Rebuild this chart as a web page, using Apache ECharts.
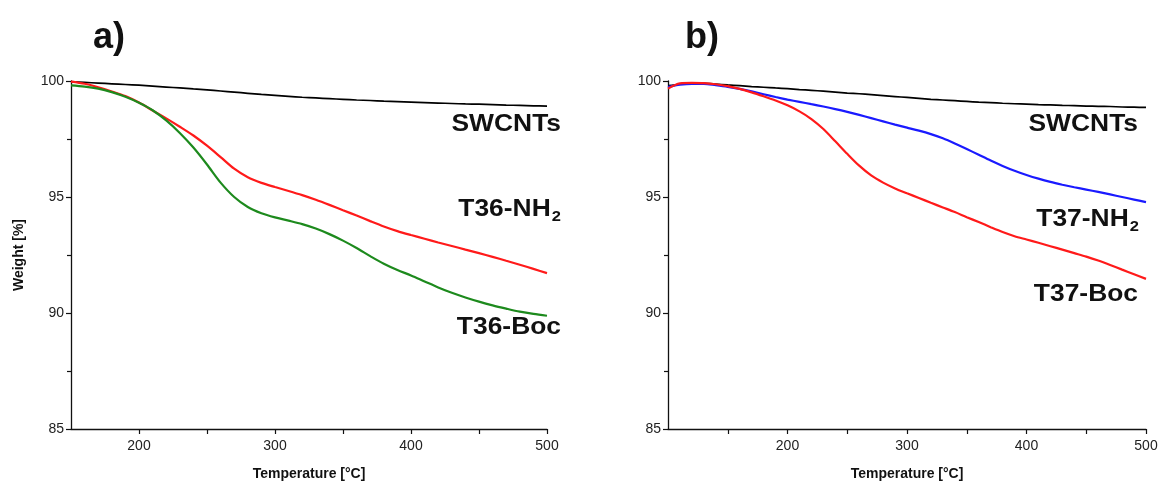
<!DOCTYPE html>
<html>
<head>
<meta charset="utf-8">
<script src="https://cdn.jsdelivr.net/npm/echarts@6/dist/echarts.min.js"></script>
<style>
  html, body { margin: 0; padding: 0; background: #fff; }
  #chart { width: 1160px; height: 484px; }
</style>
</head>
<body>
<div id="chart"></div>
<script>
// Panel a) temperatures (°C) and weights (%)
const tempA = [150,160,170,180,190,200,210,220,230,240,250,260,270,280,290,300,310,320,330,340,350,360,370,380,390,400,410,420,430,440,450,460,470,480,490,500];
const swcntA = [99.97,99.94,99.91,99.88,99.85,99.82,99.78,99.74,99.70,99.66,99.62,99.57,99.52,99.47,99.42,99.38,99.34,99.30,99.27,99.24,99.21,99.18,99.16,99.13,99.11,99.09,99.07,99.05,99.03,99.01,99.00,98.98,98.96,98.95,98.93,98.92];
const t36NH2 = [99.97,99.88,99.73,99.55,99.35,99.07,98.73,98.39,98.03,97.65,97.21,96.72,96.22,95.85,95.61,95.43,95.26,95.08,94.88,94.66,94.43,94.20,93.96,93.73,93.53,93.36,93.20,93.04,92.89,92.73,92.58,92.42,92.25,92.08,91.90,91.72];
const t36Boc = [99.81,99.76,99.67,99.52,99.32,99.06,98.74,98.30,97.76,97.13,96.40,95.62,95.00,94.57,94.30,94.12,93.98,93.83,93.64,93.40,93.12,92.80,92.45,92.12,91.85,91.62,91.36,91.10,90.87,90.67,90.49,90.33,90.19,90.06,89.96,89.88];

// Panel b) temperatures (°C) and weights (%)
const tempB = [100,110,120,130,140,150,160,170,180,190,200,210,220,230,240,250,260,270,280,290,300,310,320,330,340,350,360,370,380,390,400,410,420,430,440,450,460,470,480,490,500];
const swcntB = [99.80,99.86,99.89,99.90,99.87,99.83,99.80,99.76,99.73,99.70,99.67,99.63,99.60,99.56,99.52,99.48,99.45,99.41,99.37,99.33,99.29,99.25,99.21,99.18,99.15,99.12,99.09,99.07,99.04,99.02,99.00,98.98,98.97,98.95,98.94,98.92,98.91,98.90,98.88,98.87,98.86];
const t37NH2 = [99.74,99.84,99.88,99.88,99.82,99.75,99.66,99.55,99.43,99.31,99.20,99.10,99.00,98.90,98.79,98.67,98.54,98.40,98.26,98.12,97.99,97.86,97.71,97.53,97.31,97.07,96.82,96.57,96.34,96.13,95.95,95.79,95.65,95.53,95.42,95.32,95.22,95.11,95.00,94.89,94.78];
const t37Boc = [99.67,99.90,99.92,99.91,99.86,99.78,99.66,99.51,99.34,99.16,98.95,98.69,98.36,97.93,97.40,96.86,96.35,95.93,95.62,95.37,95.16,94.96,94.75,94.55,94.35,94.13,93.92,93.70,93.49,93.31,93.17,93.03,92.88,92.73,92.58,92.43,92.26,92.07,91.87,91.67,91.47];

// Axis ticks
const yTicks = { min: 85, max: 100, interval: 5 };
const xMajor = 100;

const FONT = '"Liberation Sans", Arial, sans-serif';
const pair = (xs, ys) => xs.map((x, i) => [x, ys[i]]);

function xAxis(gridIndex, min) {
  return {
    type: 'value', gridIndex, min, max: 500, interval: 50,
    axisLine: { show: true, onZero: false, lineStyle: { color: '#111', width: 1.3 } },
    axisTick: { show: true, inside: false, length: 5, lineStyle: { color: '#111', width: 1.2 } },
    splitLine: { show: false },
    axisLabel: {
      color: '#222', fontSize: 14, fontFamily: FONT, margin: 10,
      showMinLabel: false,
      formatter: v => (v % xMajor === 0 ? String(v) : '')
    },
    name: 'Temperature [°C]', nameLocation: 'middle', nameGap: 38,
    nameTextStyle: { color: '#111', fontSize: 14, fontWeight: 'bold', fontFamily: FONT }
  };
}

function yAxis(gridIndex, showName) {
  return {
    type: 'value', gridIndex, min: yTicks.min, max: yTicks.max, interval: yTicks.interval,
    axisLine: { show: true, lineStyle: { color: '#111', width: 1.3 } },
    axisTick: { show: true, inside: false, length: 5, lineStyle: { color: '#111', width: 1.2 } },
    minorTick: { show: true, splitNumber: 2, length: 4, lineStyle: { color: '#111', width: 1.2 } },
    splitLine: { show: false },
    axisLabel: { color: '#222', fontSize: 14, fontFamily: FONT, margin: 7 },
    name: showName ? 'Weight [%]' : '', nameLocation: 'middle', nameGap: 45,
    nameTextStyle: { color: '#111', fontSize: 14, fontWeight: 'bold', fontFamily: FONT }
  };
}

function line(name, xi, data, color, width) {
  return {
    name, type: 'line', xAxisIndex: xi, yAxisIndex: xi, data,
    showSymbol: false, smooth: 0.3, animation: false,
    lineStyle: { color, width }, itemStyle: { color }
  };
}

function label(x, y, text) {
  return {
    type: 'text', x, y, scaleX: 1.1,
    style: {
      text, fill: '#111', font: 'bold 24px ' + FONT,
      textAlign: 'right', textVerticalAlign: 'middle',
      rich: { s: { fontSize: 15, fontWeight: 'bold', fontFamily: FONT, fill: '#111', padding: [16, 0, 0, 1] } }
    }
  };
}

const chart = echarts.init(document.getElementById('chart'), null, { renderer: 'canvas' });
chart.setOption({
  backgroundColor: '#fff',
  animation: false,
  grid: [
    { left: 71, right: 613, top: 81, bottom: 55, outerBoundsMode: 'none' },
    { left: 668, right: 14, top: 81, bottom: 55, outerBoundsMode: 'none' }
  ],
  xAxis: [xAxis(0, 150), xAxis(1, 100)],
  yAxis: [yAxis(0, true), yAxis(1, false)],
  series: [
    line('SWCNTs', 0, pair(tempA, swcntA), '#000000', 1.7),
    line('T36-NH2', 0, pair(tempA, t36NH2), '#ff1a1a', 2.2),
    line('T36-Boc', 0, pair(tempA, t36Boc), '#1d8a1d', 2.2),
    line('SWCNTs', 1, pair(tempB, swcntB), '#000000', 1.7),
    line('T37-NH2', 1, pair(tempB, t37NH2), '#1a1aff', 2.2),
    line('T37-Boc', 1, pair(tempB, t37Boc), '#ff1a1a', 2.2)
  ],
  graphic: [
    { type: 'text', x: 93, y: 38, style: { text: 'a)', fill: '#111', font: 'bold 36px ' + FONT, textVerticalAlign: 'middle' } },
    { type: 'text', x: 685, y: 38, style: { text: 'b)', fill: '#111', font: 'bold 36px ' + FONT, textVerticalAlign: 'middle' } },
    label(561, 124, 'SWCNTs'),
    label(561, 209, 'T36-NH{s|2}'),
    label(561, 327, 'T36-Boc'),
    label(1138, 124, 'SWCNTs'),
    label(1139, 219, 'T37-NH{s|2}'),
    label(1138, 294, 'T37-Boc')
  ]
});
</script>
</body>
</html>
